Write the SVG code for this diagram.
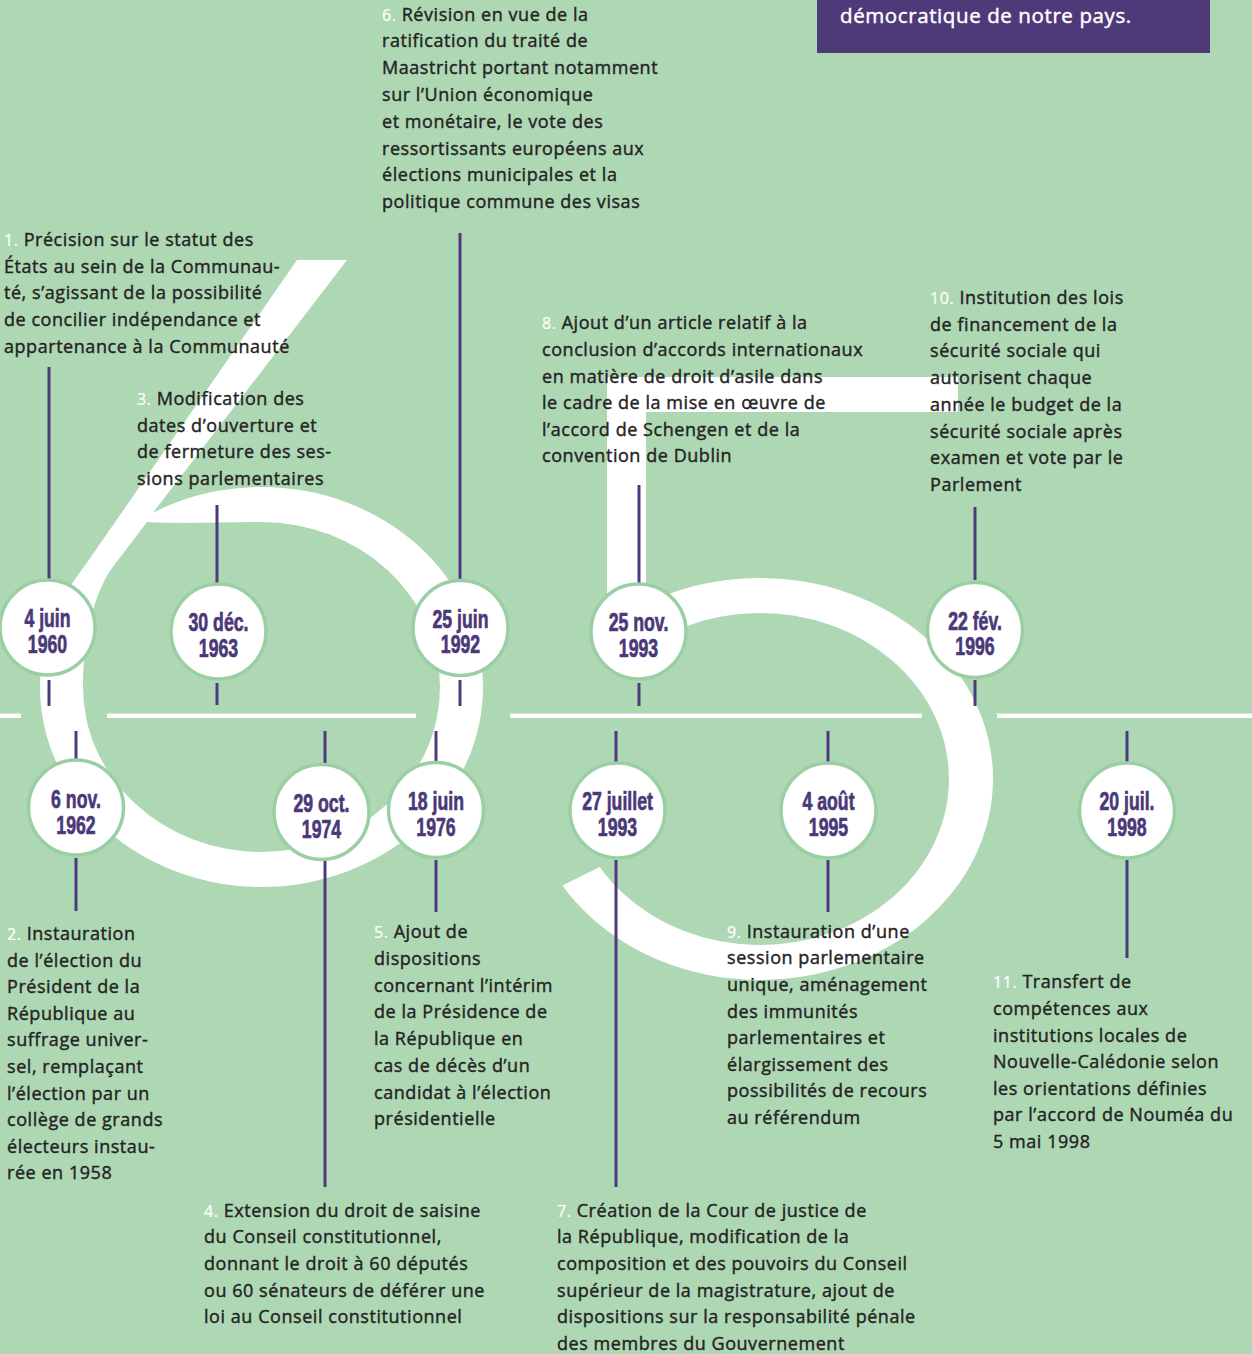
<svg xmlns="http://www.w3.org/2000/svg" width="1252" height="1354" viewBox="0 0 1252 1354">
<style>
.w{fill:#fff}
.hole{fill:#aed8b4}
.c{fill:#fff;stroke:#9acfa4;stroke-width:3.5}
.ln{stroke:#4e3a7a;stroke-width:3;fill:none}
.t{font-family:"Open Sans","Noto Sans",sans-serif;font-size:18px;fill:#252323;stroke:#252323;stroke-width:0.4px;letter-spacing:0.55px}
.n{fill:#fff;stroke:#fff;stroke-width:0.2px;font-size:16px}
.d{font-family:"Liberation Sans",Arial,sans-serif;font-weight:bold;font-size:26px;fill:#4b3878;stroke:#4b3878;stroke-width:0.7px;text-anchor:middle}
.hd{font-family:"Open Sans","Noto Sans",sans-serif;font-size:20.5px;fill:#fff;stroke:#fff;stroke-width:0.45px;letter-spacing:0.6px}
</style>
<rect width="1252" height="1354" fill="#aed8b4"/>

<g id="figure-6">
<ellipse class="w" cx="261.5" cy="687" rx="221.5" ry="200"/>
<polygon class="w" points="297,260 347,260 152,514 112,568 100,600 61,600"/>
<path class="hole" d="M147,522 C180,524 225,522 261.5,522 A178.5,165 0 0 1 440,687 A178.5,165 0 0 1 261.5,852 A178.5,165 0 0 1 83,687 C83,635 95,592 112,568 Z"/>
</g>
<g id="figure-5">
<rect class="w" x="607" y="377" width="39" height="263"/>
<rect class="w" x="607" y="377" width="351" height="35"/>
<path class="w" d="M626.4,614.3 A233,201 0 1 1 562.4,885.5 L599.7,867 A189,166 0 1 0 651.6,643 Z"/>
</g>
<g id="timeline-axis">
<rect class="w" x="0" y="713.5" width="21" height="4.5"/>
<rect class="w" x="107" y="713.5" width="309" height="4.5"/>
<rect class="w" x="510" y="713.5" width="412" height="4.5"/>
<rect class="w" x="997" y="713.5" width="255" height="4.5"/>
</g>

<g id="connectors">
<line class="ln" x1="49" y1="367" x2="49" y2="580"/>
<line class="ln" x1="49" y1="680" x2="49" y2="706"/>
<line class="ln" x1="217" y1="505" x2="217" y2="584"/>
<line class="ln" x1="217" y1="683" x2="217" y2="705"/>
<line class="ln" x1="460" y1="233" x2="460" y2="580"/>
<line class="ln" x1="460" y1="680" x2="460" y2="706"/>
<line class="ln" x1="639" y1="485" x2="639" y2="584"/>
<line class="ln" x1="639" y1="683" x2="639" y2="706"/>
<line class="ln" x1="975" y1="507" x2="975" y2="580"/>
<line class="ln" x1="975" y1="680" x2="975" y2="706"/>
<line class="ln" x1="76" y1="731" x2="76" y2="760"/>
<line class="ln" x1="76" y1="858" x2="76" y2="911"/>
<line class="ln" x1="325" y1="731" x2="325" y2="764"/>
<line class="ln" x1="325" y1="861" x2="325" y2="1187"/>
<line class="ln" x1="436" y1="731" x2="436" y2="762"/>
<line class="ln" x1="436" y1="860" x2="436" y2="912"/>
<line class="ln" x1="616" y1="731" x2="616" y2="763"/>
<line class="ln" x1="616" y1="860" x2="616" y2="1187"/>
<line class="ln" x1="828" y1="731" x2="828" y2="763"/>
<line class="ln" x1="828" y1="860" x2="828" y2="912"/>
<line class="ln" x1="1127" y1="731" x2="1127" y2="763"/>
<line class="ln" x1="1127" y1="860" x2="1127" y2="958"/>
</g>

<g id="node-1960"><circle class="c" cx="47.5" cy="627.5" r="47.5"/><text class="d" transform="translate(47.5,627) scale(0.68,1)"><tspan x="0" y="0">4 juin</tspan><tspan x="0" y="26">1960</tspan></text></g>
<g id="node-1963"><circle class="c" cx="218.5" cy="631.5" r="47.5"/><text class="d" transform="translate(218.5,631) scale(0.68,1)"><tspan x="0" y="0">30 déc.</tspan><tspan x="0" y="26">1963</tspan></text></g>
<g id="node-1992"><circle class="c" cx="460.5" cy="628" r="47.5"/><text class="d" transform="translate(460.5,627.5) scale(0.68,1)"><tspan x="0" y="0">25 juin</tspan><tspan x="0" y="26">1992</tspan></text></g>
<g id="node-1993nov"><circle class="c" cx="638.5" cy="631.5" r="47.5"/><text class="d" transform="translate(638.5,631) scale(0.68,1)"><tspan x="0" y="0">25 nov.</tspan><tspan x="0" y="26">1993</tspan></text></g>
<g id="node-1996"><circle class="c" cx="975" cy="630" r="47.5"/><text class="d" transform="translate(975,629.5) scale(0.68,1)"><tspan x="0" y="0">22 fév.</tspan><tspan x="0" y="26">1996</tspan></text></g>
<g id="node-1962"><circle class="c" cx="76" cy="807.5" r="47.5"/><text class="d" transform="translate(76,807.5) scale(0.68,1)"><tspan x="0" y="0">6 nov.</tspan><tspan x="0" y="26.5">1962</tspan></text></g>
<g id="node-1974"><circle class="c" cx="321.5" cy="812" r="47.5"/><text class="d" transform="translate(321.5,811.5) scale(0.68,1)"><tspan x="0" y="0">29 oct.</tspan><tspan x="0" y="26.5">1974</tspan></text></g>
<g id="node-1976"><circle class="c" cx="436" cy="810" r="47.5"/><text class="d" transform="translate(436,809.5) scale(0.68,1)"><tspan x="0" y="0">18 juin</tspan><tspan x="0" y="26.5">1976</tspan></text></g>
<g id="node-1993jul"><circle class="c" cx="617.5" cy="810.5" r="47.5"/><text class="d" transform="translate(617.5,810) scale(0.68,1)"><tspan x="0" y="0">27 juillet</tspan><tspan x="0" y="26.5">1993</tspan></text></g>
<g id="node-1995"><circle class="c" cx="828.5" cy="810.5" r="47.5"/><text class="d" transform="translate(828.5,810) scale(0.68,1)"><tspan x="0" y="0">4 août</tspan><tspan x="0" y="26.5">1995</tspan></text></g>
<g id="node-1998"><circle class="c" cx="1127" cy="810.5" r="47.5"/><text class="d" transform="translate(1127,810) scale(0.68,1)"><tspan x="0" y="0">20 juil.</tspan><tspan x="0" y="26.5">1998</tspan></text></g>

<g id="header">
<rect x="817" y="0" width="393" height="53" fill="#4f3a79"/>
<text class="hd" x="840" y="23">démocratique de notre pays.</text>
</g>

<g id="text-1"><text class="t" x="4" y="246"><tspan class="n">1.</tspan> Précision sur le statut des<tspan x="4" dy="26.7">États au sein de la Communau-</tspan><tspan x="4" dy="26.7">té, s’agissant de la possibilité</tspan><tspan x="4" dy="26.7">de concilier indépendance et</tspan><tspan x="4" dy="26.7">appartenance à la Communauté</tspan></text></g>
<g id="text-3"><text class="t" x="137" y="405"><tspan class="n">3.</tspan> Modification des<tspan x="137" dy="26.7">dates d’ouverture et</tspan><tspan x="137" dy="26.7">de fermeture des ses-</tspan><tspan x="137" dy="26.7">sions parlementaires</tspan></text></g>
<g id="text-6"><text class="t" x="382" y="20.7"><tspan class="n">6.</tspan> Révision en vue de la<tspan x="382" dy="26.76">ratification du traité de</tspan><tspan x="382" dy="26.76">Maastricht portant notamment</tspan><tspan x="382" dy="26.76">sur l’Union économique</tspan><tspan x="382" dy="26.76">et monétaire, le vote des</tspan><tspan x="382" dy="26.76">ressortissants européens aux</tspan><tspan x="382" dy="26.76">élections municipales et la</tspan><tspan x="382" dy="26.76">politique commune des visas</tspan></text></g>
<g id="text-8"><text class="t" x="542" y="329.3"><tspan class="n">8.</tspan> Ajout d’un article relatif à la<tspan x="542" dy="26.6">conclusion d’accords internationaux</tspan><tspan x="542" dy="26.6">en matière de droit d’asile dans</tspan><tspan x="542" dy="26.6">le cadre de la mise en œuvre de</tspan><tspan x="542" dy="26.6">l’accord de Schengen et de la</tspan><tspan x="542" dy="26.6">convention de Dublin</tspan></text></g>
<g id="text-10"><text class="t" x="930" y="304"><tspan class="n">10.</tspan> Institution des lois<tspan x="930" dy="26.7">de financement de la</tspan><tspan x="930" dy="26.7">sécurité sociale qui</tspan><tspan x="930" dy="26.7">autorisent chaque</tspan><tspan x="930" dy="26.7">année le budget de la</tspan><tspan x="930" dy="26.7">sécurité sociale après</tspan><tspan x="930" dy="26.7">examen et vote par le</tspan><tspan x="930" dy="26.7">Parlement</tspan></text></g>
<g id="text-2"><text class="t" x="7" y="940"><tspan class="n">2.</tspan> Instauration<tspan x="7" dy="26.6">de l’élection du</tspan><tspan x="7" dy="26.6">Président de la</tspan><tspan x="7" dy="26.6">République au</tspan><tspan x="7" dy="26.6">suffrage univer-</tspan><tspan x="7" dy="26.6">sel, remplaçant</tspan><tspan x="7" dy="26.6">l’élection par un</tspan><tspan x="7" dy="26.6">collège de grands</tspan><tspan x="7" dy="26.6">électeurs instau-</tspan><tspan x="7" dy="26.6">rée en 1958</tspan></text></g>
<g id="text-5"><text class="t" x="374" y="938.3"><tspan class="n">5.</tspan> Ajout de<tspan x="374" dy="26.7">dispositions</tspan><tspan x="374" dy="26.7">concernant l’intérim</tspan><tspan x="374" dy="26.7">de la Présidence de</tspan><tspan x="374" dy="26.7">la République en</tspan><tspan x="374" dy="26.7">cas de décès d’un</tspan><tspan x="374" dy="26.7">candidat à l’élection</tspan><tspan x="374" dy="26.7">présidentielle</tspan></text></g>
<g id="text-9"><text class="t" x="727" y="937.7"><tspan class="n">9.</tspan> Instauration d’une<tspan x="727" dy="26.6">session parlementaire</tspan><tspan x="727" dy="26.6">unique, aménagement</tspan><tspan x="727" dy="26.6">des immunités</tspan><tspan x="727" dy="26.6">parlementaires et</tspan><tspan x="727" dy="26.6">élargissement des</tspan><tspan x="727" dy="26.6">possibilités de recours</tspan><tspan x="727" dy="26.6">au référendum</tspan></text></g>
<g id="text-11"><text class="t" x="993" y="988.3"><tspan class="n">11.</tspan> Transfert de<tspan x="993" dy="26.6">compétences aux</tspan><tspan x="993" dy="26.6">institutions locales de</tspan><tspan x="993" dy="26.6">Nouvelle-Calédonie selon</tspan><tspan x="993" dy="26.6">les orientations définies</tspan><tspan x="993" dy="26.6">par l’accord de Nouméa du</tspan><tspan x="993" dy="26.6">5 mai 1998</tspan></text></g>
<g id="text-4"><text class="t" x="204" y="1216.7"><tspan class="n">4.</tspan> Extension du droit de saisine<tspan x="204" dy="26.6">du Conseil constitutionnel,</tspan><tspan x="204" dy="26.6">donnant le droit à 60 députés</tspan><tspan x="204" dy="26.6">ou 60 sénateurs de déférer une</tspan><tspan x="204" dy="26.6">loi au Conseil constitutionnel</tspan></text></g>
<g id="text-7"><text class="t" x="557" y="1216.7"><tspan class="n">7.</tspan> Création de la Cour de justice de<tspan x="557" dy="26.6">la République, modification de la</tspan><tspan x="557" dy="26.6">composition et des pouvoirs du Conseil</tspan><tspan x="557" dy="26.6">supérieur de la magistrature, ajout de</tspan><tspan x="557" dy="26.6">dispositions sur la responsabilité pénale</tspan><tspan x="557" dy="26.6">des membres du Gouvernement</tspan></text></g>
</svg>
